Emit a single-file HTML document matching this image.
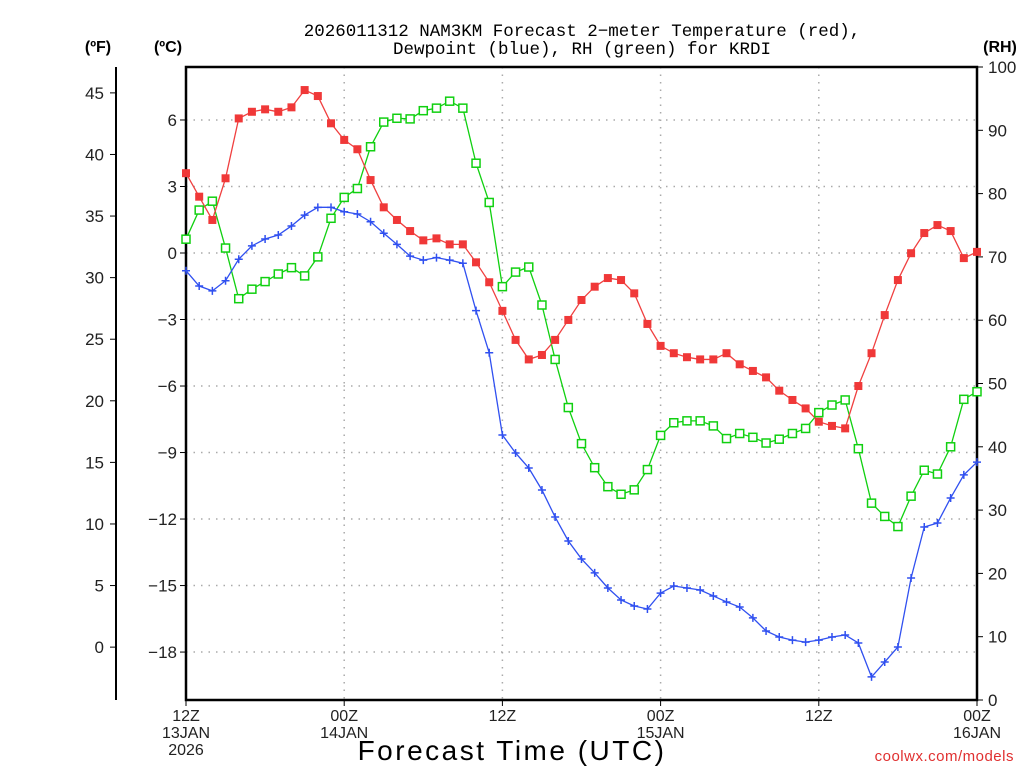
<!DOCTYPE html>
<html><head><meta charset="utf-8"><style>
html,body{margin:0;padding:0;background:#fff;}
svg{display:block;font-family:"Liberation Sans",sans-serif;}
</style></head><body>
<svg id="chart" width="1024" height="768" viewBox="0 0 1024 768" xmlns="http://www.w3.org/2000/svg">
<g id="grid"></g>
<g id="axes"></g>
<g id="series"></g>
<text x="582" y="36" font-size="17.5" font-family="Liberation Mono, monospace" text-anchor="middle" fill="#000">2026011312 NAM3KM Forecast 2−meter Temperature (red),</text>
<text x="582" y="54" font-size="17.5" font-family="Liberation Mono, monospace" text-anchor="middle" fill="#000">Dewpoint (blue), RH (green) for KRDI</text>
<text x="98" y="52" font-size="16" font-weight="bold" text-anchor="middle">(ºF)</text>
<text x="168" y="52" font-size="16" font-weight="bold" text-anchor="middle">(ºC)</text>
<text x="1000" y="52" font-size="16" font-weight="bold" text-anchor="middle">(RH)</text>
<text x="512" y="760" font-size="28" text-anchor="middle" letter-spacing="2.5">Forecast Time (UTC)</text>
<text x="1014" y="761" font-size="15" text-anchor="end" fill="#e03030" letter-spacing="0.5">coolwx.com/models</text>
</svg>
<script>
const tempC=[3.6,2.54,1.49,3.37,6.07,6.37,6.48,6.37,6.57,7.35,7.08,5.85,5.10,4.68,3.29,2.06,1.49,0.99,0.57,0.66,0.39,0.39,-0.42,-1.32,-2.61,-3.92,-4.80,-4.60,-3.92,-3.02,-2.12,-1.52,-1.13,-1.22,-1.82,-3.20,-4.19,-4.52,-4.70,-4.80,-4.80,-4.52,-5.02,-5.32,-5.61,-6.21,-6.63,-7.01,-7.61,-7.80,-7.91,-6.00,-4.52,-2.80,-1.22,-0.01,0.9,1.26,0.99,-0.23,0.05];
const dewC=[-0.80,-1.49,-1.71,-1.25,-0.28,0.32,0.63,0.81,1.22,1.71,2.06,2.06,1.86,1.76,1.41,0.89,0.39,-0.14,-0.32,-0.21,-0.32,-0.46,-2.60,-4.50,-8.21,-9.02,-9.70,-10.69,-11.91,-12.99,-13.80,-14.43,-15.11,-15.65,-15.92,-16.06,-15.34,-15.02,-15.11,-15.20,-15.47,-15.74,-15.97,-16.46,-17.05,-17.32,-17.46,-17.55,-17.46,-17.32,-17.23,-17.59,-19.12,-18.45,-17.77,-14.66,-12.36,-12.18,-11.05,-10.01,-9.43];
const rh=[72.8,77.4,78.8,71.4,63.4,64.9,66.1,67.3,68.3,67.0,70.0,76.1,79.4,80.8,87.4,91.3,91.9,91.8,93.1,93.5,94.6,93.5,84.8,78.6,65.3,67.6,68.4,62.4,53.8,46.2,40.5,36.7,33.7,32.5,33.2,36.4,41.8,43.8,44.1,44.1,43.3,41.3,42.1,41.5,40.6,41.2,42.1,42.9,45.4,46.6,47.4,39.7,31.1,29.0,27.4,32.2,36.3,35.7,40.0,47.5,48.7];
const cTicks=[6,3,0,-3,-6,-9,-12,-15,-18];
const fTicks=[45,40,35,30,25,20,15,10,5,0];
const rhTicks=[0,10,20,30,40,50,60,70,80,90,100];
const xTickHours=[0,12,24,36,48,60];
const xTickLabels=[["12Z","13JAN","2026"],["00Z","14JAN"],["12Z"],["00Z","15JAN"],["12Z"],["00Z","16JAN"]];

const NS="http://www.w3.org/2000/svg";
const L=186,R=977,T=67,B=700;
const xs=h=>L+(R-L)*h/60;
const yc=c=>253-c*22.17;
const yf=f=>yc((f-32)*5/9);
const yr=v=>B-(B-T)*v/100;
function mk(tag,attrs,parent){const e=document.createElementNS(NS,tag);for(const k in attrs)e.setAttribute(k,attrs[k]);parent.appendChild(e);return e;}
const grid=document.getElementById('grid'),axes=document.getElementById('axes'),series=document.getElementById('series');

cTicks.forEach(c=>{
  const g=mk('line',{x1:L,x2:R,y1:yc(c),y2:yc(c),stroke:'#aaa','stroke-width':1.5,'stroke-dasharray':'1.5,6'},grid);
  
  
  const t=mk('line',{x1:L-6,x2:L,y1:yc(c),y2:yc(c),stroke:'#000'},axes);
  
  
  const tx=mk('text',{x:L-9,y:yc(c)+6,'font-size':17,'text-anchor':'end',fill:'#222'},axes);
  tx.textContent=c<0?'−'+Math.abs(c):String(c);
  
  
});
xTickHours.forEach((h,i)=>{
  if(h>0&&h<60){const g=mk('line',{x1:xs(h),x2:xs(h),y1:T,y2:B,stroke:'#aaa','stroke-width':1.5,'stroke-dasharray':'1.5,6'},grid);
  
  }
  const t=mk('line',{x1:xs(h),x2:xs(h),y1:B,y2:B+6,stroke:'#000'},axes);
  
  
  xTickLabels[i].forEach((s,j)=>{
    const tx=mk('text',{x:xs(h),y:B+21+j*17,'font-size':16,'text-anchor':'middle',fill:'#222'},axes);
    tx.textContent=s;
    
    
  });
});
const fAxis=mk('line',{x1:116,x2:116,y1:T,y2:B,stroke:'#000','stroke-width':2},axes);


fTicks.forEach(f=>{
  const t=mk('line',{x1:110,x2:116,y1:yf(f),y2:yf(f),stroke:'#000'},axes);
  
  
  const tx=mk('text',{x:104,y:yf(f)+6,'font-size':17,'text-anchor':'end',fill:'#222'},axes);
  tx.textContent=String(f);
  
  
});
rhTicks.forEach(v=>{
  const t=mk('line',{x1:R,x2:R+6,y1:yr(v),y2:yr(v),stroke:'#000'},axes);
  
  
  const tx=mk('text',{x:R+11,y:yr(v)+6,'font-size':17,'text-anchor':'start',fill:'#222'},axes);
  tx.textContent=String(v);
  
  
});
const frame=mk('rect',{x:L,y:T,width:R-L,height:B-T,fill:'none',stroke:'#000','stroke-width':2.5},axes);



function poly(vals,yfn,color,name){
  const p=mk('polyline',{points:vals.map((v,i)=>xs(i)+','+yfn(v)).join(' '),fill:'none',stroke:color,'stroke-width':1.3},series);
  
  
}
poly(rh,yr,'#10d010','rh');
poly(tempC,yc,'#f04040','temperature');
poly(dewC,yc,'#3050f0','dewpoint');
rh.forEach((v,i)=>{
  const m=mk('rect',{x:xs(i)-4,y:yr(v)-4,width:8,height:8,fill:'#fff',stroke:'#10d010','stroke-width':1.5},series);
  
  
});
tempC.forEach((v,i)=>{
  const m=mk('rect',{x:xs(i)-4,y:yc(v)-4,width:8,height:8,fill:'#f03838'},series);
  
  
});
dewC.forEach((v,i)=>{
  const x=xs(i),y=yc(v);
  const m=mk('path',{d:`M${x-4},${y}H${x+4}M${x},${y-4}V${y+4}`,stroke:'#3050f0','stroke-width':1.5},series);
  
  
});
</script>
</body></html>
